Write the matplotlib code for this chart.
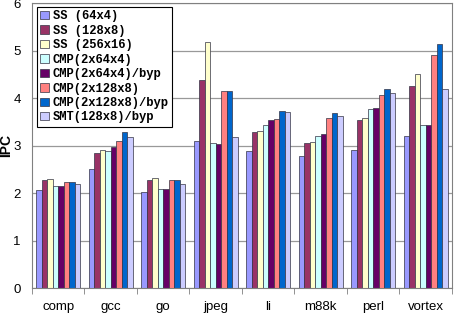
import matplotlib
matplotlib.use("Agg")
import matplotlib.pyplot as plt
import numpy as np

BENCHMARKS = ["comp", "gcc", "go", "jpeg", "li", "m88k", "perl", "vortex"]
CONFIGS = ["SS (64x4)", "SS (128x8)", "SS (256x16)", "CMP(2x64x4)",
           "CMP(2x64x4)/byp", "CMP(2x128x8)", "CMP(2x128x8)/byp", "SMT(128x8)/byp"]
COLORS = ["#9999FF", "#993366", "#FFFFCC", "#CCFFFF",
          "#660066", "#FF8080", "#0066CC", "#CCCCFF"]

# IPC per config, one list per config across the benchmarks
ss_64x4 = [2.06, 2.50, 2.03, 3.09, 2.88, 2.78, 2.91, 3.21]
ss_128x8 = [2.27, 2.84, 2.27, 4.39, 3.28, 3.05, 3.54, 4.25]
ss_256x16 = [2.29, 2.91, 2.32, 5.17, 3.31, 3.07, 3.59, 4.50]
cmp_64x4 = [2.15, 2.89, 2.08, 3.05, 3.43, 3.21, 3.76, 3.43]
cmp_64x4_byp = [2.14, 2.97, 2.08, 3.04, 3.54, 3.24, 3.78, 3.43]
cmp_128x8 = [2.24, 3.09, 2.27, 4.15, 3.56, 3.59, 4.06, 4.91]
cmp_128x8_byp = [2.24, 3.29, 2.27, 4.15, 3.73, 3.68, 4.20, 5.13]
smt_128x8_byp = [2.20, 3.19, 2.19, 3.17, 3.70, 3.63, 4.10, 4.20]

SERIES = [ss_64x4, ss_128x8, ss_256x16, cmp_64x4,
          cmp_64x4_byp, cmp_128x8, cmp_128x8_byp, smt_128x8_byp]

fig = plt.figure(figsize=(4.55, 3.35), dpi=100)
ax = fig.add_axes([0.0703, 0.140, 0.923, 0.851])

x = np.arange(len(BENCHMARKS))
width = 0.105
for i, (vals, label, color) in enumerate(zip(SERIES, CONFIGS, COLORS)):
    ax.bar(x + (i - 3.5) * width, vals, width, color=color,
           edgecolor="#333344", linewidth=0.5, label=label, zorder=2)

ax.set_xlim(-0.5, len(BENCHMARKS) - 0.5)
ax.set_ylim(0, 6)
ax.set_yticks(range(7))
ax.yaxis.grid(True, color="#999999", linewidth=0.9, zorder=0)
ax.set_axisbelow(True)

ax.set_xticks(x)
ax.set_xticklabels(BENCHMARKS, fontsize=9.5, family="Liberation Sans")
ax.set_xticks(np.arange(-0.5, len(BENCHMARKS)), minor=True)
ax.tick_params(axis="x", which="major", length=0, pad=9)
ax.tick_params(axis="x", which="minor", length=4, color="#808080")
ax.tick_params(axis="y", length=0, labelsize=9.5, pad=8)
for lbl in ax.get_yticklabels():
    lbl.set_family("Liberation Sans")

for side in ["top", "right", "left", "bottom"]:
    ax.spines[side].set_color("#808080")

ax.set_ylabel("IPC", fontsize=10, fontweight="bold", family="Liberation Sans")
ax.yaxis.set_label_coords(-0.045, 0.5)

leg = ax.legend(loc="upper left", bbox_to_anchor=(0.005, 0.995),
                prop={"family": "Liberation Mono", "weight": "bold", "size": 8.7},
                frameon=True, fancybox=False, framealpha=1, edgecolor="black",
                handlelength=0.7, handleheight=0.7, handletextpad=0.35,
                labelspacing=0.2, borderpad=0.3, borderaxespad=0.2)
leg.get_frame().set_linewidth(0.8)

fig.savefig("out.png", dpi=100)
